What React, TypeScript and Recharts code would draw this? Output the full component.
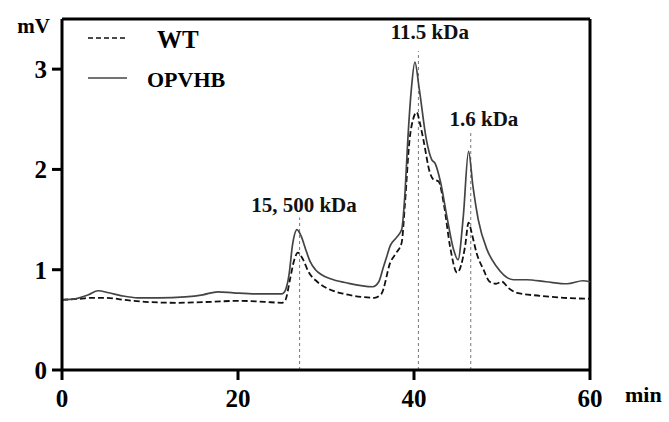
import { LineChart, Line, XAxis, YAxis, ReferenceLine, ReferenceDot } from "recharts";

// OPVHB trace (solid)
const opTime = [0, 1.5, 3, 4.1, 5.3, 6.8, 8.6, 11, 14, 16, 17.7, 19.5, 22, 25, 25.3, 25.8, 26.2, 26.7, 27.2, 27.7, 28.2, 28.8, 29.5, 30.5, 32.3, 35.3, 36, 36.5, 36.9, 37.3, 38, 38.6, 39, 39.3, 39.7, 40.1, 40.6, 41.4, 42, 42.4, 43, 43.8, 44.5, 45, 45.6, 46.2, 46.7, 47.3, 48.3, 49.4, 51.3, 52.8, 55, 57.4, 59.2, 60];
const opValue = [0.70, 0.71, 0.75, 0.79, 0.77, 0.74, 0.72, 0.72, 0.73, 0.75, 0.78, 0.77, 0.76, 0.76, 0.78, 0.95, 1.25, 1.40, 1.33, 1.20, 1.08, 1.00, 0.95, 0.91, 0.87, 0.83, 0.88, 1.02, 1.13, 1.24, 1.32, 1.40, 1.8, 2.3, 2.8, 3.07, 2.8, 2.3, 2.1, 2.06, 1.88, 1.5, 1.2, 1.1, 1.53, 2.18, 1.83, 1.5, 1.2, 1.03, 0.9, 0.9, 0.88, 0.86, 0.89, 0.88];

// WT trace (dashed)
const wtTime = [0, 2, 3.5, 5, 7, 9.4, 13, 17, 20, 23, 25, 25.4, 25.9, 26.4, 26.8, 27.4, 28, 29, 30.5, 32, 34, 35.5, 36.3, 37.3, 38, 38.6, 38.95, 39.5, 39.9, 40.3, 40.7, 41.06, 41.8, 42.2, 42.8, 43.4, 44.1, 44.9, 45.8, 46.2, 46.6, 47.1, 47.9, 48.6, 49.3, 50, 50.7, 51.7, 54.3, 57, 60];
const wtValue = [0.70, 0.71, 0.72, 0.72, 0.70, 0.68, 0.67, 0.68, 0.69, 0.68, 0.67, 0.70, 0.90, 1.10, 1.17, 1.10, 0.98, 0.88, 0.80, 0.76, 0.73, 0.72, 0.76, 1.07, 1.17, 1.27, 1.63, 2.3, 2.5, 2.57, 2.45, 2.3, 1.97, 1.9, 1.88, 1.65, 1.23, 0.97, 1.23, 1.47, 1.35, 1.17, 1.0, 0.88, 0.86, 0.88, 0.82, 0.77, 0.74, 0.72, 0.71];

// peak markers: retention time, top of guide line, label and label position
const peakTime = [27.0, 40.5, 46.45];
const peakTop = [1.52, 3.18, 2.37];
const peakLabel = ["15, 500 kDa", "11.5 kDa", "1.6 kDa"];
const labelTime = [27.5, 41.8, 47.95];
const labelValue = [1.65, 3.37, 2.51];

const xTicks = [0, 20, 40, 60];
const yTicks = [0, 1, 2, 3];

const opData = opTime.map((t, i) => ({ t, v: opValue[i] }));
const wtData = wtTime.map((t, i) => ({ t, v: wtValue[i] }));

const FONT = "'Liberation Serif', 'Times New Roman', serif";
const tickStyle = { fontFamily: FONT, fontSize: 25, fontWeight: 700, fill: "#000" };

export default function App() {
  return (
    <div style={{ position: "absolute", left: 0, top: 0, width: 669, height: 422, background: "#fff" }}>
      <LineChart width={669} height={422} margin={{ top: 19, right: 79, left: 0, bottom: 0 }}>
        <XAxis
          type="number" dataKey="t" domain={[0, 60]} ticks={xTicks} height={52}
          axisLine={{ stroke: "#000", strokeWidth: 3 }} tickLine={{ stroke: "#000", strokeWidth: 3 }}
          tickSize={10} tickMargin={9} tick={tickStyle} allowDuplicatedCategory={false}
        />
        <YAxis
          type="number" dataKey="v" domain={[0, 3.5]} ticks={yTicks} width={62}
          axisLine={{ stroke: "#000", strokeWidth: 3 }} tickLine={{ stroke: "#000", strokeWidth: 3 }}
          tickSize={10} tickMargin={5} tick={tickStyle}
        />
        <ReferenceLine y={3.5} stroke="#000" strokeWidth={3} />
        <ReferenceLine x={60} stroke="#000" strokeWidth={3} />
        {peakTime.map((t, i) => (
          <ReferenceLine
            key={"g" + i}
            segment={[{ x: t, y: 0 }, { x: t, y: peakTop[i] }]}
            stroke="#777" strokeWidth={1} strokeDasharray="3 3"
          />
        ))}
        {peakLabel.map((s, i) => (
          <ReferenceDot
            key={"l" + i} x={labelTime[i]} y={labelValue[i]} r={0} stroke="none" fill="none"
            label={{ value: s, position: "center", fontFamily: FONT, fontSize: 21, fontWeight: 700, fill: "#111" }}
          />
        ))}
        <Line data={wtData} dataKey="v" type="monotone" stroke="#111" strokeWidth={1.8}
          strokeDasharray="6 3" dot={false} isAnimationActive={false} />
        <Line data={opData} dataKey="v" type="monotone" stroke="#444" strokeWidth={1.7}
          dot={false} isAnimationActive={false} />
      </LineChart>
      <svg width={669} height={422} style={{ position: "absolute", left: 0, top: 0, pointerEvents: "none" }}>
        <line x1={88} y1={38} x2={127} y2={38} stroke="#111" strokeWidth={1.5} strokeDasharray="5 3" />
        <line x1={88} y1={78} x2={127} y2={78} stroke="#444" strokeWidth={1.5} />
        <text x={157} y={48} fontFamily={FONT} fontSize={25} fontWeight={700} fill="#000">WT</text>
        <text x={147} y={87} fontFamily={FONT} fontSize={22} fontWeight={700} fill="#000">OPVHB</text>
        <text x={50} y={33} textAnchor="end" fontFamily={FONT} fontSize={21} fontWeight={700} fill="#000">mV</text>
        <text x={625} y={402} fontFamily={FONT} fontSize={22} fontWeight={700} fill="#000">min</text>
      </svg>
    </div>
  );
}
